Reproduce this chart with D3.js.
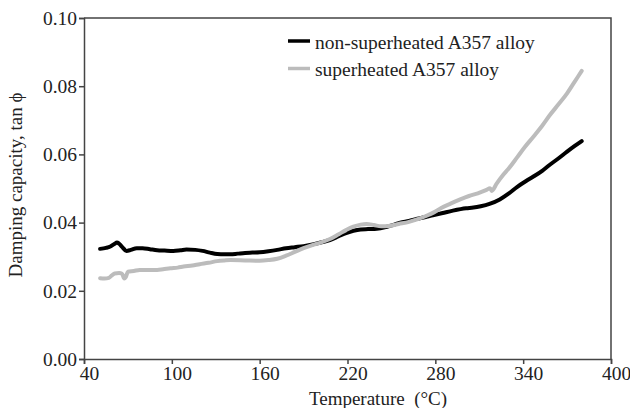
<!DOCTYPE html>
<html>
<head>
<meta charset="utf-8">
<script src="https://cdn.jsdelivr.net/npm/d3@7"></script>
<style>
  body { margin: 0; background: #fff; }
</style>
</head>
<body>
<div id="chart"></div>
<script>
let width = 630,
    height = 408,
    margin = ({ top: 18, right: 19, bottom: 49, left: 84 });

const serif = "'Liberation Serif', 'Times New Roman', Times, 'DejaVu Serif', serif";

// tick values
const xTicks = [40, 100, 160, 220, 280, 340, 400];
const yTicks = [0.00, 0.02, 0.04, 0.06, 0.08, 0.10];

// non-superheated A357 alloy: [temperature °C, tan phi]
const nonSuperheated = [
  [51, 0.0323], [55, 0.0326], [58, 0.0330], [61, 0.0338], [62.5, 0.0342], [64, 0.0338], [66, 0.0329],
  [69, 0.0317], [72, 0.0320], [76, 0.0325], [80, 0.0325], [85, 0.0322], [90, 0.0319],
  [95, 0.0318], [101, 0.0317], [106, 0.0319], [110, 0.0321], [116, 0.0320], [121, 0.0317],
  [126, 0.0312], [131, 0.0308], [136, 0.0307], [140, 0.0307], [145, 0.0309], [150, 0.0311],
  [155, 0.0312], [160, 0.0313], [166, 0.0316], [172, 0.0320], [178, 0.0325], [184, 0.0328],
  [190, 0.0331], [197, 0.0337], [203, 0.0343], [208, 0.0349], [214, 0.0360], [219, 0.0369],
  [224, 0.0376], [229, 0.0380], [234, 0.0381], [240, 0.0382], [247, 0.0388], [252, 0.0394],
  [256, 0.0400], [262, 0.0405], [267, 0.0411], [274, 0.0417], [279, 0.0422], [285, 0.0428],
  [292, 0.0435], [301, 0.0442], [306, 0.0444], [311, 0.0448], [317, 0.0455], [324, 0.0468],
  [330, 0.0485], [336, 0.0505], [342, 0.0522], [347, 0.0535], [353, 0.0552], [358, 0.0569],
  [364, 0.0588], [370, 0.0608], [375, 0.0624], [380, 0.0639]
];

// superheated A357 alloy
const superheated = [
  [51, 0.0237], [54, 0.0236], [57, 0.0238], [59, 0.0245], [61, 0.0251], [64, 0.0252],
  [66, 0.0250], [67.5, 0.0236], [68.5, 0.0240], [70, 0.0256], [74, 0.0258], [78, 0.0261],
  [84, 0.0261], [90, 0.0261], [94, 0.0263], [99, 0.0266], [104, 0.0268], [108, 0.0271],
  [114, 0.0274], [119, 0.0278], [125, 0.0282], [131, 0.0287], [136, 0.0289], [140, 0.0290],
  [150, 0.0289], [160, 0.0288], [166, 0.0290], [172, 0.0294], [178, 0.0303], [184, 0.0314],
  [190, 0.0325], [196, 0.0334], [202, 0.0342], [208, 0.0352], [214, 0.0366], [219, 0.0378],
  [224, 0.0388], [229, 0.0394], [233, 0.0396], [238, 0.0393], [243, 0.0389], [248, 0.0390],
  [255, 0.0396], [262, 0.0402], [268, 0.0410], [274, 0.0420], [279, 0.0430], [284, 0.0443],
  [290, 0.0455], [297, 0.0468], [303, 0.0478], [309, 0.0486], [315, 0.0496], [317.4, 0.0501],
  [318.5, 0.0493], [322, 0.0515], [326, 0.0538], [330, 0.0558], [336, 0.0592], [341, 0.0621], [347, 0.0652],
  [353, 0.0684], [358, 0.0714], [364, 0.0746], [370, 0.0779], [375, 0.0812], [380, 0.0845]
];

const seriesNames = ["non-superheated A357 alloy", "superheated A357 alloy"];
const seriesColors = ["#000000", "#bcbcbc"];

const svg = d3.select("#chart")
  .append("svg")
  .attr("width", width)
  .attr("height", height)
  .style("font-family", serif);

let x = d3.scaleLinear()
  .domain([40, 400])
  .range([margin.left, width - margin.right]);

let y = d3.scaleLinear()
  .domain([0, 0.10])
  .range([height - margin.bottom, margin.top]);

// frame (top and right)
svg.append("path")
  .attr("d", `M${margin.left},${margin.top}H${width - margin.right}V${height - margin.bottom}`)
  .attr("fill", "none")
  .attr("stroke", "#444")
  .attr("stroke-width", 1.5);

svg.append("g")
  .attr("transform", `translate(0,${height - margin.bottom})`)
  .call(d3.axisBottom(x).tickValues(xTicks).tickSizeOuter(0).tickSize(5).tickPadding(2).tickFormat(d3.format("d")))
  .attr("font-family", serif)
  .call(g => g.selectAll("path, line").attr("stroke", "#444").attr("stroke-width", 1.5))
  .call(g => g.selectAll("text").attr("font-size", 19.5).attr("dx", 5).attr("fill", "#222").style("font-family", serif));

svg.append("g")
  .attr("transform", `translate(${margin.left},0)`)
  .call(d3.axisLeft(y).tickValues(yTicks).tickSizeOuter(0).tickSize(5).tickPadding(2).tickFormat(d3.format(".2f")))
  .attr("font-family", serif)
  .call(g => g.selectAll("path, line").attr("stroke", "#444").attr("stroke-width", 1.5))
  .call(g => g.selectAll("text").attr("font-size", 19.5).attr("fill", "#222").style("font-family", serif));

const line = d3.line()
  .x(d => x(d[0]))
  .y(d => y(d[1]))
  .curve(d3.curveMonotoneX);

[nonSuperheated, superheated].forEach((data, i) => {
  svg.append("path")
    .datum(data)
    .attr("fill", "none")
    .attr("stroke", seriesColors[i])
    .attr("stroke-width", 4)
    .attr("stroke-linejoin", "round")
    .attr("stroke-linecap", "round")
    .attr("d", line);
});

// legend
const legend = svg.append("g");
seriesNames.forEach((name, i) => {
  const ly = 41 + i * 27.5;
  legend.append("line")
    .attr("x1", 288).attr("x2", 310)
    .attr("y1", ly).attr("y2", ly)
    .attr("stroke", seriesColors[i])
    .attr("stroke-width", 3.5);
  legend.append("text")
    .attr("x", 315)
    .attr("y", ly + 7.5)
    .attr("font-size", 19.5)
    .attr("fill", "#222")
    .style("font-family", serif)
    .text(name);
});

// axis titles
svg.append("text")
  .attr("x", 378)
  .attr("y", 405)
  .attr("text-anchor", "middle")
  .attr("font-size", 19)
  .attr("fill", "#222")
  .style("font-family", serif)
  .style("white-space", "pre")
  .text("Temperature  (°C)");

svg.append("text")
  .attr("transform", "translate(22,185) rotate(-90)")
  .attr("text-anchor", "middle")
  .attr("font-size", 19)
  .attr("fill", "#222")
  .style("font-family", serif)
  .text("Damping capacity, tan ϕ");
</script>
</body>
</html>
